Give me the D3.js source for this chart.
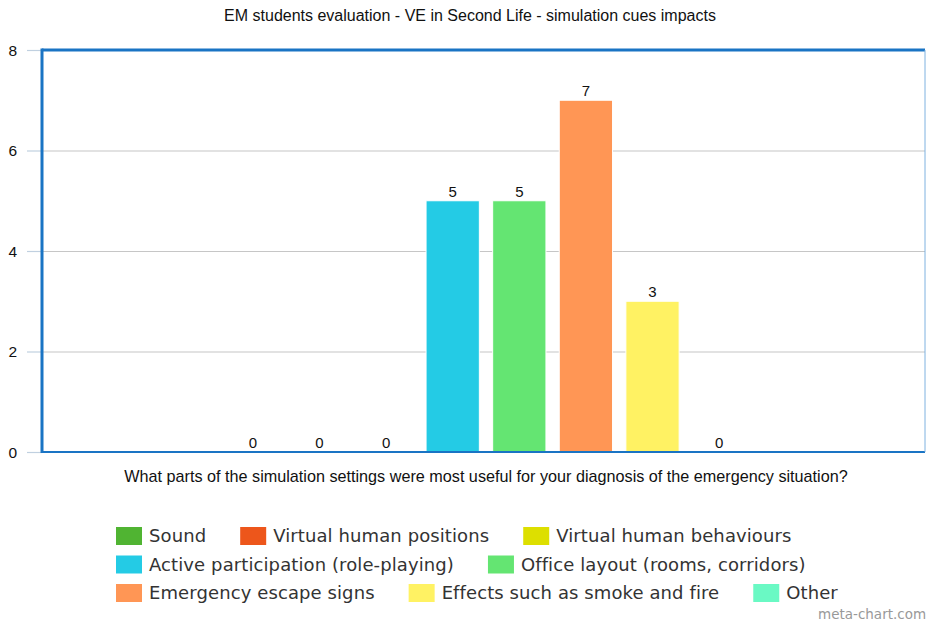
<!DOCTYPE html>
<html>
<head>
<meta charset="utf-8">
<script src="https://cdn.jsdelivr.net/npm/d3@7/dist/d3.min.js"></script>
<style>
  html, body { margin: 0; padding: 0; background: #fff; }
  svg { display: block; }
</style>
</head>
<body>
<svg id="chart" width="926" height="622"></svg>
<script>
// Chart content
const chartTitle = "EM students evaluation - VE in Second Life - simulation cues impacts";
const categoryLabel = "What parts of the simulation settings were most useful for your diagnosis of the emergency situation?";
const seriesNames = [
  "Sound",
  "Virtual human positions",
  "Virtual human behaviours",
  "Active participation (role-playing)",
  "Office layout (rooms, corridors)",
  "Emergency escape signs",
  "Effects such as smoke and fire",
  "Other"
];
const seriesValues = [0, 0, 0, 5, 5, 7, 3, 0];
const seriesColors = ["#50B432", "#ED561B", "#DDDF00", "#24CBE5", "#64E572", "#FF9655", "#FFF263", "#6AF9C4"];
const yTicks = [0, 2, 4, 6, 8];
const watermark = "meta-chart.com";

const svg = d3.select("#chart");
const plot = { left: 42, right: 930, top: 50, bottom: 452, frameRight: 925 };
const plotW = plot.right - plot.left;

const y = d3.scaleLinear().domain([0, 8]).range([plot.bottom, plot.top]);

// one category holding all series side by side, 20% group padding on each side
const groupPad = 0.2 * plotW;
const x = d3.scaleBand()
  .domain(seriesNames)
  .range([plot.left + groupPad, plot.right - groupPad])
  .paddingInner(0.2)
  .paddingOuter(0.1);

const sans = "Liberation Sans, Arial, sans-serif";

// Title
svg.append("text")
  .attr("x", 470).attr("y", 21)
  .attr("text-anchor", "middle")
  .attr("font-family", sans)
  .attr("font-size", 16)
  .attr("fill", "#111")
  .text(chartTitle);

// Grid lines
svg.append("g")
  .selectAll("line")
  .data(yTicks.filter(d => d > 0 && d < 8))
  .join("line")
  .attr("x1", plot.left).attr("x2", plot.frameRight)
  .attr("y1", d => y(d) + 0.5).attr("y2", d => y(d) + 0.5)
  .attr("stroke", "#c6c6c6").attr("stroke-width", 1.2);

// Y axis with ticks to the left
const yAxis = d3.axisLeft(y).tickValues(yTicks).tickSize(15).tickPadding(10).tickFormat(d3.format("d"));
const gy = svg.append("g").attr("transform", `translate(${plot.left},0)`).call(yAxis);
gy.select(".domain").remove();
gy.selectAll(".tick line").attr("stroke", "#c0d0e0").attr("stroke-width", 1.2);
gy.selectAll(".tick text")
  .attr("font-family", sans)
  .attr("font-size", 15.5)
  .attr("fill", "#111")
  .attr("dy", "0.35em");

// Bars
svg.append("g")
  .selectAll("rect")
  .data(seriesNames.map((n, i) => ({ name: n, value: seriesValues[i], color: seriesColors[i] })))
  .join("rect")
  .attr("x", d => x(d.name))
  .attr("width", x.bandwidth())
  .attr("y", d => y(d.value))
  .attr("height", d => y(0) - y(d.value))
  .attr("fill", d => d.color)
  .attr("stroke", "#fff")
  .attr("stroke-width", 1);

// Value labels
svg.append("g")
  .selectAll("text")
  .data(seriesNames.map((n, i) => ({ name: n, value: seriesValues[i] })))
  .join("text")
  .attr("x", d => x(d.name) + x.bandwidth() / 2)
  .attr("y", d => y(d.value) - 4)
  .attr("text-anchor", "middle")
  .attr("font-family", sans)
  .attr("font-size", 15)
  .attr("fill", "#111")
  .text(d => d.value);

// Plot frame
const frame = svg.append("g").attr("fill", "none").attr("stroke", "#1a74c4");
frame.append("line").attr("x1", plot.left).attr("x2", plot.frameRight).attr("y1", plot.top).attr("y2", plot.top).attr("stroke-width", 3);
frame.append("line").attr("x1", plot.left).attr("x2", plot.left).attr("y1", plot.top - 1.5).attr("y2", plot.bottom + 1).attr("stroke-width", 3);
frame.append("line").attr("x1", plot.left).attr("x2", plot.frameRight).attr("y1", plot.bottom).attr("y2", plot.bottom).attr("stroke-width", 2);
frame.append("line").attr("x1", plot.frameRight).attr("x2", plot.frameRight).attr("y1", plot.top).attr("y2", plot.bottom).attr("stroke-width", 1).attr("stroke", "#7fb2e0");

// Category title under the axis
svg.append("text")
  .attr("x", 486).attr("y", 482)
  .attr("text-anchor", "middle")
  .attr("font-family", sans)
  .attr("font-size", 16.2)
  .attr("fill", "#111")
  .text(categoryLabel);

// Legend: items flow left to right, wrapping within a fixed width
const legend = svg.append("g").attr("transform", "translate(116,0)");
const legendMaxW = 760, rowH = 28.5, firstRowY = 536;
const symW = 26, symH = 18, symGap = 7, itemGap = 34;
let cx = 0, row = 0;
seriesNames.forEach((name, i) => {
  const g = legend.append("g");
  const t = g.append("text")
    .attr("x", symW + symGap)
    .attr("dy", "0.35em")
    .attr("font-family", "DejaVu Sans, Verdana, sans-serif")
    .attr("font-size", 18)
    .attr("letter-spacing", 0.1)
    .attr("fill", "#333")
    .text(name);
  const itemW = symW + symGap + t.node().getComputedTextLength();
  if (cx > 0 && cx + itemW > legendMaxW) { cx = 0; row += 1; }
  g.attr("transform", `translate(${cx},${firstRowY + row * rowH})`);
  g.insert("rect", "text")
    .attr("x", 0).attr("y", -symH / 2)
    .attr("width", symW).attr("height", symH)
    .attr("fill", seriesColors[i]);
  cx += itemW + itemGap;
});

// Credit line in the bottom-right corner
svg.append("text")
  .attr("x", 818).attr("y", 619)
  .attr("font-family", "DejaVu Sans, Verdana, sans-serif")
  .attr("font-size", 13.5)
  .attr("fill", "#999")
  .text(watermark);
</script>
</body>
</html>
